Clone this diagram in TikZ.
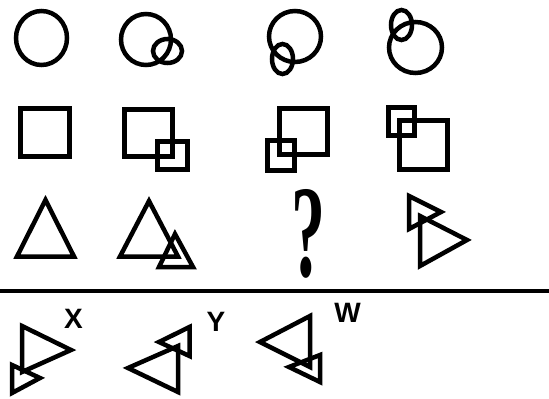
\documentclass[tikz,border=0pt]{standalone}
\usepackage{fontspec}
\setsansfont{Liberation Sans}
\newfontfamily\qfont{Liberation Serif}
\usepackage{graphicx}
\tikzset{
  fig/.style={draw, line width=4.5pt, line join=miter, miter limit=10},
  box/.style={draw, line width=5pt, line join=miter},
  letter/.style={font=\sffamily\bfseries\fontsize{28}{28}\selectfont, inner sep=0pt}
}
\begin{document}
\begin{tikzpicture}[x=1pt, y=-1pt]
\useasboundingbox (0,0) rectangle (549,399);

% row of circles
\draw[fig] (41.5,38) ellipse [x radius=25.5pt, y radius=27pt];
\draw[fig] (146,39.5) ellipse [x radius=25pt, y radius=25.5pt];
\draw[fig] (167.5,51) ellipse [x radius=14.5pt, y radius=12pt];
\draw[fig] (295,36.5) ellipse [x radius=26pt, y radius=25.5pt];
\draw[fig] (282.5,59) ellipse [x radius=10.5pt, y radius=15pt];
\draw[fig] (415.5,47.5) ellipse [x radius=26.5pt, y radius=25.5pt];
\draw[fig] (401.5,25) ellipse [x radius=10.5pt, y radius=15pt];

% row of squares
\draw[box] (20.5,108.5) rectangle (69.5,156.5);
\draw[box] (124.5,109.5) rectangle (172.5,156.5);
\draw[box] (157.5,141.5) rectangle (187.5,169.5);
\draw[box] (279.5,108.5) rectangle (327.5,154.5);
\draw[box] (267.5,140.5) rectangle (294.5,170.5);
\draw[box] (388.5,107.5) rectangle (414.5,135.5);
\draw[box] (399.5,120.5) rectangle (447.5,169.5);

% row of triangles
\draw[fig] (45.5,200) -- (17,256.5) -- (74,256.5) -- cycle;
\draw[fig] (149,201) -- (120,256.5) -- (178,256.5) -- cycle;
\draw[fig] (175,234) -- (159,267) -- (193,267) -- cycle;
\node[inner sep=0pt] (q) at (308,233.5) {\resizebox{34pt}{87pt}{\qfont\bfseries ?}};
\draw[fig] (420,216) -- (420,266) -- (467,240) -- cycle;
\draw[fig] (409,196) -- (409,229) -- (441,212) -- cycle;

\draw[line width=3.5pt] (0,291) -- (549,291);

% answers
\draw[fig] (22,326) -- (71,350) -- (22,372) -- cycle;
\draw[fig] (12,365) -- (40,378) -- (12,393) -- cycle;
\node[letter] (x) at (73.5,318.5) {X};

\draw[fig] (178,346) -- (128,368) -- (178,392) -- cycle;
\draw[fig] (189.5,327) -- (159,342) -- (189.5,356) -- cycle;
\node[letter] (y) at (216,322) {Y};

\draw[fig] (310,316) -- (260,342) -- (310,367) -- cycle;
\draw[fig] (320,355) -- (289,367) -- (320,382) -- cycle;
\node[letter] (w) at (347.5,313) {W};
\end{tikzpicture}
\end{document}
